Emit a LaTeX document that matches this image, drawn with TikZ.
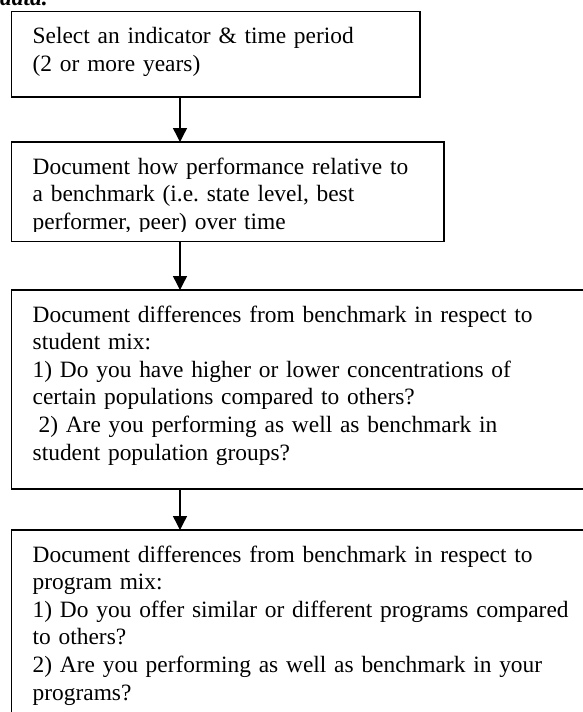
\documentclass[tikz,border=0pt]{standalone}
\usepackage{fontspec}
\setmainfont{Liberation Serif}
\usetikzlibrary{arrows.meta}
\frenchspacing

\begin{document}
\begin{tikzpicture}[x=1pt,y=-1pt]
        \tikzstyle{box} = [draw, line width=1.4pt, inner sep=0pt, outer sep=0pt, anchor=north west]
        \tikzstyle{txt} = [inner sep=0pt, anchor=base west, align=left, text width=560pt, font=\fontsize{23.4}{27.6}\selectfont]
        \tikzstyle{flow} = [-{Triangle[width=14pt,length=14pt]}, line width=1.4pt]
        \useasboundingbox (0,0) rectangle (582,712);
        \node[inner sep=0pt, anchor=base west, font=\fontsize{23.4}{27.6}\selectfont\bfseries\itshape] (head) at (0,5.5) {data.};
        \node[box, minimum width=408.5pt, minimum height=85.5pt] (b1) at (11.5,11.5) {};
        \node[box, minimum width=432.5pt, minimum height=99.5pt] (b2) at (11.5,142) {};
        \node[box, minimum width=620pt, minimum height=199pt] (b3) at (11.5,290) {};
        \node[box, minimum width=620pt, minimum height=240pt] (b4) at (11.5,530) {};
        \node[txt] (t1) at ([xshift=21pt,yshift=-32pt]b1.north west)
            {Select an indicator \& time period\\(2 or more years)};
        \begin{scope}
            \clip (b2.north west) rectangle ([yshift=10pt]b2.south east);
            \node[txt] (t2) at ([xshift=21pt,yshift=-32pt]b2.north west)
                {Document how performance relative to\\a benchmark (i.e. state level, best\\performer, peer) over time};
        \end{scope}
        \node[txt] (t3) at ([xshift=21pt,yshift=-32pt]b3.north west)
            {Document differences from benchmark in respect to\\student mix:\\1) Do you have higher or lower concentrations of\\certain populations compared to others?\\\hspace*{0.25em}2) Are you performing as well as benchmark in\\student population groups?};
        \node[txt] (t4) at ([xshift=21pt,yshift=-32pt]b4.north west)
            {Document differences from benchmark in respect to\\program mix:\\1) Do you offer similar or different programs compared\\to others?\\2) Are you performing as well as benchmark in your\\programs?};
        \foreach \from/\to in {b1/b2, b2/b3, b3/b4}
            \draw[flow] ([xshift=168.5pt]\from.south west) -- ([xshift=168.5pt]\to.north west);
    \end{tikzpicture}
\end{document}
